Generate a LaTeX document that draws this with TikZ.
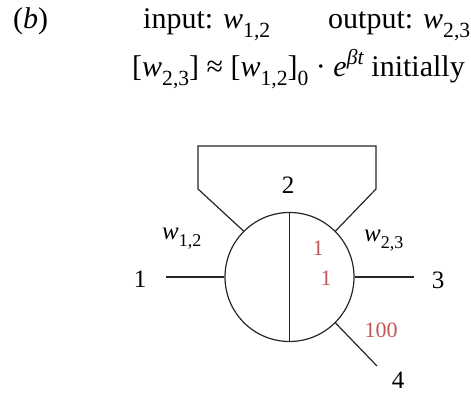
\documentclass[tikz,border=0pt]{standalone}
\usepackage{fontspec}
\setmainfont{Liberation Serif}
\definecolor{wred}{RGB}{196,86,86}
\newcommand{\lowidx}[1]{\raisebox{-0.28em}{\scalebox{0.72}{#1}}}
\newcommand{\highidx}[1]{\raisebox{0.42em}{\scalebox{0.72}{#1}}}
\newcommand{\wsub}[1]{\textit{w}\lowidx{#1}}
\begin{document}
\begin{tikzpicture}[x=1pt, y=1pt,
    wire/.style={line width=1.2pt, black!85},
    head/.style={font=\fontsize{30}{34}\selectfont, anchor=base west, inner sep=0pt},
    port/.style={font=\fontsize{25}{28}\selectfont, inner sep=0pt},
    gain/.style={font=\fontsize{22}{25}\selectfont, text=wred, inner sep=0pt},
]
\useasboundingbox (0,0) rectangle (471,393);

% Header lines
\node[head] (tag) at (13,364) {(\textit{b})};
\node[head] (input) at (143,364) {input: \wsub{1,2}};
\node[head] (output) at (328,364) {output: \wsub{2,3}};
\node[head] (rate) at (132,316) {[\wsub{2,3}] ≈ [\wsub{1,2}]\lowidx{0} · \textit{e}\highidx{\textit{βt}} initially};

% Split node 2
\node[circle, wire, draw, minimum size=129pt, inner sep=0pt] (hub) at (289.5,116) {};
\draw[wire] (hub.north) -- (hub.south);

% Self loop over the node
\coordinate (loopL) at (198,204);
\coordinate (loopLt) at (198,247);
\coordinate (loopRt) at (376,247);
\coordinate (loopR) at (376,204);
\draw[wire] (hub.135) -- (loopL) -- (loopLt) -- (loopRt) -- (loopR) -- (hub.45);

% Ports 1, 3, 4
\coordinate (end1) at (166,116);
\coordinate (end3) at (414,116);
\coordinate (end4) at (377,27);
\draw[wire] (end1) -- (hub.west);
\draw[wire] (hub.east) -- (end3);
\draw[wire] (hub.-45) -- (end4);

% Labels
\node[port] (n1) at (140,114) {1};
\node[port] (n2) at (288,208) {2};
\node[port] (n3) at (438,113) {3};
\node[port] (n4) at (398,13) {4};
\node[port, anchor=base west] (w12) at (162,153) {\wsub{1,2}};
\node[port, anchor=base west] (w23) at (364,151) {\wsub{2,3}};
\node[gain] (g1) at (318,145) {1};
\node[gain] (g2) at (326,115) {1};
\node[gain] (g3) at (381,63) {100};
\end{tikzpicture}
\end{document}
